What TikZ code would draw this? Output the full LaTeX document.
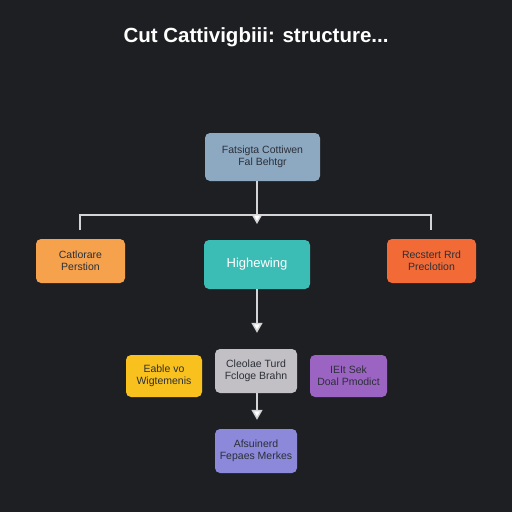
\documentclass[tikz,border=0pt]{standalone}
\usepackage{fontspec}
\setmainfont{Liberation Sans}
\usetikzlibrary{arrows.meta}
\definecolor{bg}{HTML}{1E1F22}
\definecolor{cTop}{HTML}{8DA9C2}
\definecolor{cLeft}{HTML}{F6A24C}
\definecolor{cMid}{HTML}{3BBDB6}
\definecolor{cRight}{HTML}{F26B36}
\definecolor{cGray}{HTML}{C2C0C4}
\definecolor{cYel}{HTML}{F8C11E}
\definecolor{cPur}{HTML}{9C64C2}
\definecolor{cLav}{HTML}{8C88DA}
\definecolor{txt}{HTML}{2B2F38}
\definecolor{wire}{HTML}{D4D4D6}
\tikzset{
  box/.style={rounded corners=5pt, inner sep=0pt, align=center, text=txt,
    font=\fontsize{10.5}{12}\selectfont},
  wirel/.style={draw=wire, line width=1.5pt},
  arr/.style={wirel, -{Triangle[length=10pt,width=11pt,fill=white]}},
}
\begin{document}
\begin{tikzpicture}[x=1pt,y=-1pt]
\fill[bg] (0,0) rectangle (512,512);
\useasboundingbox (0,0) rectangle (512,512);
\node[font=\fontsize{20.5}{22}\selectfont\bfseries, text=white] (title) at (256,37) {Cut Cattivigbiii: structure...};
\node[box, fill=cTop, minimum width=115pt, minimum height=48pt] (top) at (262.5,157) {Fatsigta Cottiwen\\Fal Behtgr};
\node[box, fill=cLeft, minimum width=89pt, minimum height=44pt] (left) at (80.5,261) {Catlorare\\Perstion};
\node[box, fill=cMid, minimum width=106pt, minimum height=49pt, text=white, font=\fontsize{13}{15}\selectfont] (mid) at (257,264.5) {Highewing};
\node[box, fill=cRight, minimum width=89pt, minimum height=44pt] (right) at (431.5,261) {Recstert Rrd\\Preclotion};
\node[box, fill=cGray, minimum width=82pt, minimum height=44pt] (gray) at (256,371) {Cleolae Turd\\Fcloge Brahn};
\node[box, fill=cYel, minimum width=76pt, minimum height=42pt] (yel) at (164,376) {Eable vo\\Wigtemenis};
\node[box, fill=cPur, minimum width=77pt, minimum height=42pt] (pur) at (348.5,376) {IEIt Sek\\Doal Pmodict};
\node[box, fill=cLav, minimum width=82pt, minimum height=44pt] (lav) at (256,451) {Afsuinerd\\Fepaes Merkes};
\coordinate (tip) at (257,224);
\coordinate (bl) at (80,230);
\coordinate (br) at (431,230);
\coordinate (tl) at (80,215);
\coordinate (tr) at (431,215);
\draw[wirel] (bl) -- (tl) -- (tr) -- (br);
\draw[arr] (top.south -| tip) -- (tip);
\draw[arr] (mid.south -| tip) -- ([yshift=16pt]gray.north -| tip);
\draw[arr] (gray.south -| tip) -- ([yshift=9pt]lav.north -| tip);
\end{tikzpicture}
\end{document}
